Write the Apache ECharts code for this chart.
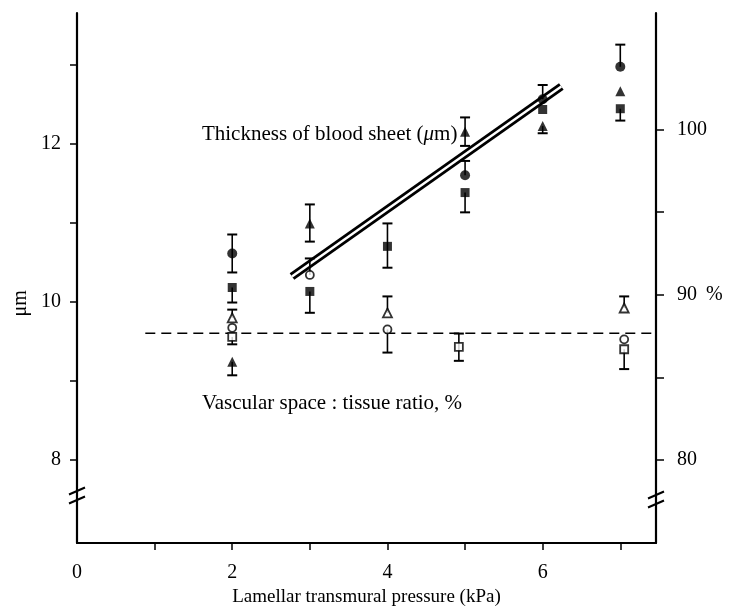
<!DOCTYPE html>
<html>
<head>
<meta charset="utf-8">
<script src="https://cdn.jsdelivr.net/npm/echarts@6/dist/echarts.min.js"></script>
<style>html,body{margin:0;background:#fff}#main{width:741px;height:607px}</style>
</head>
<body>
<div id="main"></div>
<script>
// thickness of blood sheet (um) -> left axis, filled symbols
// each point: [pressure, value, low, high]
var circleFilled = [[2, 10.61, 10.37, 10.85], [5, 11.60, 11.60, 11.78], [6, 12.56, 12.56, 12.74], [7, 12.97, 12.97, 13.25]];
var squareFilled = [[2, 10.18, 9.99, 10.18], [3, 10.13, 9.86, 10.13], [4, 10.70, 10.43, 10.99], [5, 11.38, 11.13, 11.38], [6, 12.43, 12.43, 12.43], [7, 12.44, 12.29, 12.44]];
var triFilled = [[2, 9.24, 9.07, 9.24], [3, 10.99, 10.76, 11.23], [5, 12.15, 11.97, 12.33], [6, 12.22, 12.13, 12.22], [7, 12.66, 12.66, 12.66]];

// vascular space : tissue ratio (%) -> right axis, open symbols
var triOpen = [[2, 88.6, 88.6, 89.1], [4, 88.9, 88.9, 89.9], [7.05, 89.2, 89.2, 89.9]];
var circleOpen = [[2, 88.0, 88.0, 88.0], [3, 91.2, 91.2, 92.2], [4, 87.9, 86.5, 87.9], [7.05, 87.3, 87.3, 87.3]];
var squareOpen = [[2, 87.45, 87.0, 87.45], [4.92, 86.85, 86.0, 87.65], [7.05, 86.7, 85.5, 86.7]];

// fitted line and mean ratio line
var regLine = [[2.77, 10.32], [6.24, 12.72]];
var meanLine = [[0.88, 9.6], [7.46, 9.6]];

var xTicks = [1, 2, 3, 4, 5, 6, 7];
var xLabels = [0, 2, 4, 6];
var leftTicks = [8, 9, 10, 11, 12, 13];
var leftLabels = [8, 10, 12];
var rightTicks = [80, 85, 90, 95, 100];
var rightLabels = [80, 90, 100];

var serif = '"Liberation Serif", "DejaVu Serif", serif';
var chart = echarts.init(document.getElementById('main'));

function renderErr(params, api) {
  var x = api.value(0), v = api.value(1), lo = api.value(2), hi = api.value(3);
  var a = api.coord([x, lo]), b = api.coord([x, hi]);
  var w = 5;
  var kids = [];
  if (hi > lo) {
    kids.push({type: 'line', shape: {x1: a[0], y1: a[1], x2: b[0], y2: b[1]}, style: {stroke: '#000', lineWidth: 1.6}});
  }
  if (hi > v) kids.push({type: 'line', shape: {x1: b[0] - w, y1: b[1], x2: b[0] + w, y2: b[1]}, style: {stroke: '#000', lineWidth: 2}});
  if (lo < v) kids.push({type: 'line', shape: {x1: a[0] - w, y1: a[1], x2: a[0] + w, y2: a[1]}, style: {stroke: '#000', lineWidth: 2}});
  return {type: 'group', children: kids};
}

function errSeries(data, yIdx) {
  return {type: 'custom', yAxisIndex: yIdx, data: data, encode: {x: 0, y: [1, 2, 3]}, renderItem: renderErr, silent: true, z: 3};
}

function dots(data, yIdx, symbol, size, open) {
  return {
    type: 'scatter', yAxisIndex: yIdx, data: data, symbol: symbol, symbolSize: size, z: 5, silent: true,
    itemStyle: open ? {color: '#fff', borderColor: '#000', borderWidth: 1.8} : {color: '#000'}
  };
}

var axisFont = {color: '#000', fontFamily: serif, fontSize: 20};

chart.setOption({
  animation: false,
  grid: {left: 77, right: 85, top: 13, bottom: 64, outerBoundsMode: 'none'},
  xAxis: {
    type: 'value', min: 0, max: 7.46,
    name: 'Lamellar transmural pressure (kPa)', nameLocation: 'middle', nameGap: 43,
    nameTextStyle: {color: '#000', fontFamily: serif, fontSize: 19},
    axisLine: {show: true, onZero: false, lineStyle: {color: '#000', width: 2.2}},
    axisTick: {show: true, customValues: xTicks, length: 7, lineStyle: {color: '#000', width: 1.5}},
    axisLabel: Object.assign({customValues: xLabels, margin: 20}, axisFont),
    splitLine: {show: false}
  },
  yAxis: [{
    type: 'value', min: 6.95, max: 13.65, position: 'left',
    axisLine: {show: true, lineStyle: {color: '#000', width: 2.2}},
    axisTick: {show: true, customValues: leftTicks, length: 7, lineStyle: {color: '#000', width: 1.5}},
    axisLabel: Object.assign({customValues: leftLabels, margin: 16}, axisFont),
    splitLine: {show: false}
  }, {
    type: 'value', min: 74.97, max: 107.06, position: 'right',
    axisLine: {show: true, lineStyle: {color: '#000', width: 2.2}},
    axisTick: {show: true, customValues: rightTicks, length: 8, lineStyle: {color: '#000', width: 1.5}},
    axisLabel: Object.assign({customValues: rightLabels, margin: 21}, axisFont),
    splitLine: {show: false}
  }],
  series: [
    {type: 'line', data: meanLine, symbol: 'none', silent: true, z: 1, lineStyle: {color: '#000', width: 1.5, type: [10, 6]}},
    {type: 'line', data: regLine, symbol: 'none', silent: true, z: 2, lineStyle: {color: '#000', width: 8, cap: 'butt'}},
    {type: 'line', data: regLine, symbol: 'none', silent: true, z: 2, lineStyle: {color: '#fff', width: 2.4, cap: 'butt'}},
    errSeries(circleFilled, 0), errSeries(squareFilled, 0), errSeries(triFilled, 0),
    errSeries(triOpen, 1), errSeries(circleOpen, 1), errSeries(squareOpen, 1),
    dots(circleFilled, 0, 'circle', 10),
    dots(squareFilled, 0, 'rect', 9),
    dots(triFilled, 0, 'triangle', 10),
    dots(triOpen, 1, 'triangle', 9, true),
    dots(circleOpen, 1, 'circle', 8, true),
    dots(squareOpen, 1, 'rect', 8, true)
  ]
});

// axis breaks and text labels, placed through the axes
function breakMark(p) {
  var x = p[0], y = p[1];
  return {
    type: 'group', z: 20, children: [
      {type: 'rect', shape: {x: x - 3, y: y - 4, width: 6, height: 8}, style: {fill: '#fff'}},
      {type: 'line', shape: {x1: x - 8, y1: y - 1, x2: x + 8, y2: y - 8}, style: {stroke: '#000', lineWidth: 2}},
      {type: 'line', shape: {x1: x - 8, y1: y + 8, x2: x + 8, y2: y + 1}, style: {stroke: '#000', lineWidth: 2}}
    ]
  };
}
var bl = chart.convertToPixel({xAxisIndex: 0, yAxisIndex: 0}, [0, 7.55]);
var br = chart.convertToPixel({xAxisIndex: 0, yAxisIndex: 0}, [7.46, 7.5]);
var t1 = chart.convertToPixel({xAxisIndex: 0, yAxisIndex: 0}, [1.61, 12.12]);
var t2 = chart.convertToPixel({xAxisIndex: 0, yAxisIndex: 0}, [1.61, 8.72]);
var pct = chart.convertToPixel({xAxisIndex: 0, yAxisIndex: 1}, [7.46, 90]);
var um = chart.convertToPixel({xAxisIndex: 0, yAxisIndex: 0}, [0, 9.98]);

chart.setOption({
  graphic: [
    breakMark(bl), breakMark(br),
    {type: 'text', x: t1[0], y: t1[1], style: {text: 'Thickness of blood sheet ({i|\u03bc}m)', fill: '#000', font: '21px ' + serif, verticalAlign: 'middle',
      rich: {i: {fontStyle: 'italic', fontFamily: serif, fontSize: 21}}}},
    {type: 'text', x: t2[0], y: t2[1], style: {text: 'Vascular space : tissue ratio, %', fill: '#000', font: '21px ' + serif, verticalAlign: 'middle'}},
    {type: 'text', x: pct[0] + 50, y: pct[1], style: {text: '%', fill: '#000', font: '20px ' + serif, verticalAlign: 'middle'}},
    {type: 'text', x: um[0] - 56, y: um[1], rotation: Math.PI / 2, style: {text: '\u03bcm', fill: '#000', font: '20px ' + serif, align: 'center', verticalAlign: 'middle'}}
  ]
});
</script>
</body>
</html>
